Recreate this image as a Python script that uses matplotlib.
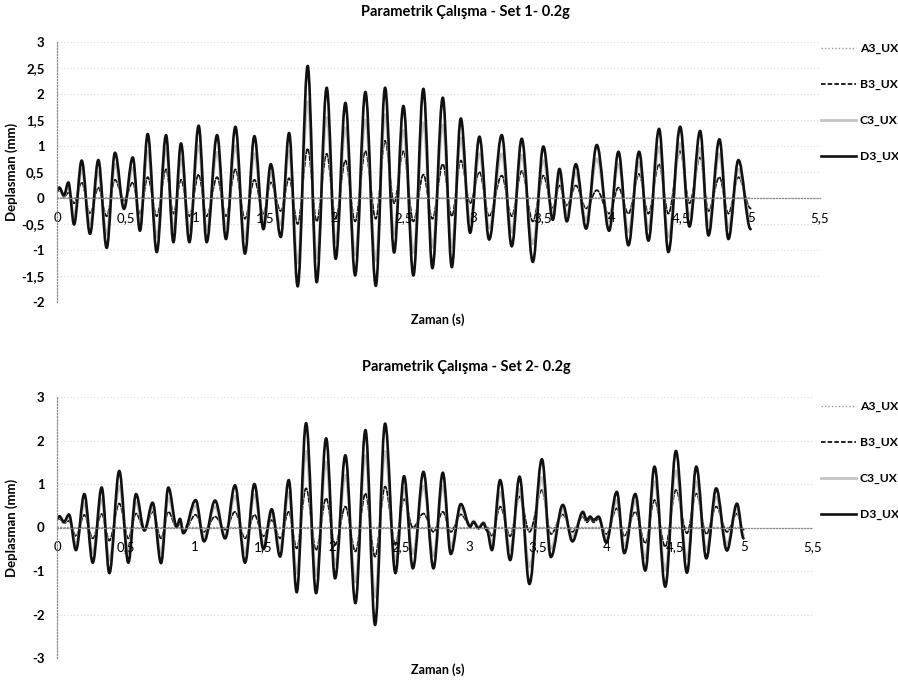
import matplotlib
matplotlib.use('Agg')
import matplotlib.pyplot as plt
from matplotlib.path import Path
from matplotlib.patches import PathPatch
from matplotlib.lines import Line2D

plt.rcParams['font.family'] = ['Lato', 'DejaVu Sans']

# ---- Set 1: time of each turning point (s) and displacement (mm)
t1 = [0.000, 0.017, 0.050, 0.082, 0.123, 0.178, 0.238, 0.298, 0.358, 0.418,
      0.483, 0.546, 0.598, 0.654, 0.719, 0.786, 0.839, 0.894, 0.954, 1.021,
      1.079, 1.154, 1.218, 1.286, 1.355, 1.423, 1.488, 1.541, 1.613, 1.673,
      1.735, 1.807, 1.872, 1.944, 2.009, 2.079, 2.149, 2.223, 2.298, 2.365,
      2.430, 2.497, 2.569, 2.641, 2.706, 2.781, 2.846, 2.911, 2.978, 3.045,
      3.115, 3.206, 3.278, 3.350, 3.430, 3.506, 3.574, 3.622, 3.675, 3.740,
      3.814, 3.891, 3.980, 4.047, 4.119, 4.196, 4.263, 4.340, 4.407, 4.492,
      4.559, 4.636, 4.696, 4.775, 4.840, 4.912, 5.000]
d3_set1 = [0.15, 0.20, 0.05, 0.30, -0.51, 0.72, -0.69, 0.73, -0.96, 0.87,
           -0.21, 0.78, -0.63, 1.23, -1.04, 1.21, -0.85, 1.05, -0.85, 1.39,
           -0.85, 1.21, -0.79, 1.37, -1.07, 1.19, -0.60, 0.65, -0.75, 1.25,
           -1.70, 2.54, -1.62, 2.12, -1.17, 1.83, -1.49, 2.04, -1.69, 2.12,
           -1.05, 1.77, -1.49, 2.10, -1.35, 1.93, -1.33, 1.53, -0.67, 1.18,
           -0.80, 1.21, -0.93, 1.14, -1.23, 0.99, -0.42, 0.56, -0.45, 0.65,
           -0.59, 1.02, -0.63, 0.89, -0.91, 0.89, -0.82, 1.33, -1.04, 1.37,
           -0.55, 1.29, -0.72, 1.13, -0.79, 0.73, -0.60]
b3_set1 = [0.12, 0.15, 0.02, 0.10, -0.10, 0.30, -0.30, 0.20, -0.35, 0.35,
           -0.05, 0.30, -0.30, 0.40, -0.35, 0.55, -0.30, 0.35, -0.35, 0.45,
           -0.35, 0.40, -0.35, 0.55, -0.40, 0.35, -0.30, 0.30, -0.25, 0.38,
           -0.50, 0.95, -0.45, 0.85, -0.40, 0.72, -0.45, 0.90, -0.40, 1.10,
           -0.10, 0.90, -0.45, 0.45, -0.40, 0.65, -0.35, 0.72, -0.10, 0.50,
           -0.35, 0.43, -0.35, 0.52, -0.45, 0.43, -0.20, 0.24, -0.15, 0.24,
           -0.20, 0.15, -0.30, 0.20, -0.30, 0.46, -0.30, 0.65, -0.30, 0.90,
           -0.10, 0.78, -0.25, 0.40, -0.30, 0.40, -0.20]
c3_set1 = [0.14, 0.18, 0.04, 0.22, -0.35, 0.55, -0.50, 0.50, -0.70, 0.65,
           -0.15, 0.58, -0.48, 0.90, -0.75, 0.95, -0.62, 0.75, -0.62, 1.00,
           -0.62, 0.88, -0.58, 1.00, -0.78, 0.85, -0.45, 0.48, -0.52, 0.90,
           -1.25, 1.85, -1.15, 1.55, -0.85, 1.35, -1.10, 1.50, -1.20, 1.60,
           -0.70, 1.30, -1.05, 1.45, -0.95, 1.40, -0.95, 1.15, -0.45, 0.85,
           -0.58, 0.85, -0.65, 0.82, -0.88, 0.72, -0.30, 0.42, -0.32, 0.48,
           -0.42, 0.75, -0.45, 0.65, -0.65, 0.68, -0.60, 0.98, -0.75, 1.05,
           -0.35, 0.95, -0.52, 0.85, -0.58, 0.55, -0.40]

# ---- Set 2
t2 = [0.000, 0.017, 0.051, 0.087, 0.138, 0.199, 0.260, 0.325, 0.381, 0.453,
      0.519, 0.575, 0.636, 0.696, 0.757, 0.810, 0.871, 0.895, 0.919, 1.009,
      1.070, 1.150, 1.223, 1.295, 1.368, 1.436, 1.502, 1.562, 1.623, 1.686,
      1.744, 1.812, 1.885, 1.958, 2.023, 2.098, 2.171, 2.244, 2.314, 2.387,
      2.462, 2.525, 2.589, 2.666, 2.739, 2.807, 2.865, 2.938, 3.006, 3.030,
      3.066, 3.103, 3.127, 3.164, 3.224, 3.297, 3.365, 3.437, 3.528, 3.593,
      3.680, 3.750, 3.826, 3.855, 3.879, 3.903, 3.940, 3.996, 4.073, 4.127,
      4.207, 4.280, 4.347, 4.425, 4.503, 4.583, 4.651, 4.724, 4.796, 4.874,
      4.947, 4.995]
d3_set2 = [0.21, 0.26, 0.13, 0.30, -0.52, 0.77, -0.81, 0.92, -1.05, 1.30,
           -0.81, 0.77, -0.07, 0.57, -0.82, 0.92, 0.02, 0.20, -0.13, 0.63,
           -0.32, 0.62, -0.25, 0.97, -0.81, 1.00, -0.50, 0.42, -0.67, 1.09,
           -1.49, 2.40, -1.51, 2.05, -1.17, 1.66, -1.74, 2.24, -2.24, 2.39,
           -1.05, 1.18, -0.94, 1.28, -0.94, 1.26, -0.61, 0.54, 0.02, 0.13,
           -0.02, 0.10, -0.06, -0.52, 1.09, -0.75, 1.17, -1.30, 1.57, -0.68,
           0.52, -0.32, 0.36, 0.17, 0.25, 0.17, 0.25, -0.35, 0.82, -0.59,
           0.77, -0.99, 1.40, -1.36, 1.76, -1.04, 1.40, -0.71, 0.90, -0.53,
           0.55, -0.25]
b3_set2 = [0.18, 0.20, 0.10, 0.15, -0.20, 0.29, -0.25, 0.31, -0.30, 0.55,
           -0.25, 0.32, -0.05, 0.36, -0.25, 0.36, 0.00, 0.10, -0.10, 0.29,
           -0.10, 0.25, -0.05, 0.36, -0.25, 0.29, -0.20, 0.17, -0.25, 0.36,
           -0.48, 0.90, -0.52, 0.67, -0.40, 0.48, -0.55, 0.78, -0.67, 0.94,
           -0.40, 0.65, 0.00, 0.32, -0.10, 0.36, -0.10, 0.30, 0.05, 0.12,
           0.02, 0.10, 0.00, -0.20, 0.48, -0.20, 0.71, -0.10, 0.86, -0.15,
           0.30, -0.10, 0.25, 0.12, 0.20, 0.12, 0.20, -0.15, 0.44, -0.20,
           0.36, -0.36, 0.63, -0.44, 0.86, -0.13, 0.78, -0.15, 0.48, -0.10,
           0.32, -0.05]
c3_set2 = [0.20, 0.24, 0.12, 0.24, -0.38, 0.55, -0.58, 0.65, -0.75, 0.95,
           -0.58, 0.58, -0.06, 0.45, -0.58, 0.68, 0.02, 0.16, -0.12, 0.50,
           -0.22, 0.48, -0.18, 0.72, -0.58, 0.75, -0.38, 0.32, -0.48, 0.80,
           -1.05, 1.75, -1.10, 1.50, -0.85, 1.20, -1.25, 1.65, -1.60, 1.75,
           -0.78, 0.90, -0.60, 0.95, -0.65, 0.95, -0.42, 0.45, 0.05, 0.15,
           0.00, 0.12, -0.04, -0.38, 0.80, -0.52, 0.88, -0.90, 1.15, -0.48,
           0.42, -0.22, 0.32, 0.17, 0.24, 0.17, 0.24, -0.26, 0.62, -0.42,
           0.60, -0.70, 1.05, -0.98, 1.30, -0.72, 1.05, -0.50, 0.70, -0.38,
           0.45, -0.18]

# base node stays at rest
a3_t = [0.0, 5.0]
a3_v = [0.0, 0.0]

x_ticks = [0, 0.5, 1, 1.5, 2, 2.5, 3, 3.5, 4, 4.5, 5, 5.5]
x_labels = ['0', '0,5', '1', '1,5', '2', '2,5', '3', '3,5', '4', '4,5', '5', '5,5']
y1_ticks = [-2, -1.5, -1, -0.5, 0, 0.5, 1, 1.5, 2, 2.5, 3]
y1_labels = ['-2', '-1,5', '-1', '-0,5', '0', '0,5', '1', '1,5', '2', '2,5', '3']
y2_ticks = [-3, -2, -1, 0, 1, 2, 3]
y2_labels = ['-3', '-2', '-1', '0', '1', '2', '3']
series = ['A3_UX', 'B3_UX', 'C3_UX', 'D3_UX']

styles = {
    'A3_UX': dict(color='#9a9a9a', lw=1.0, ls=(0, (1, 1.5))),
    'B3_UX': dict(color='#111111', lw=1.3, ls=(0, (2.5, 1.2))),
    'C3_UX': dict(color='#c4c4c4', lw=2.0, ls='-'),
    'D3_UX': dict(color='#111111', lw=1.9, ls='-'),
}


def smooth(t, v, k=0.36):
    # excel style smoothed line: bezier segments, flat at each read point
    verts = [(t[0], v[0])]
    codes = [Path.MOVETO]
    for i in range(len(t) - 1):
        dt = t[i + 1] - t[i]
        verts += [(t[i] + k * dt, v[i]), (t[i + 1] - k * dt, v[i + 1]), (t[i + 1], v[i + 1])]
        codes += [Path.CURVE4] * 3
    return Path(verts, codes)


def draw_series(ax, name, t, v):
    st = styles[name]
    ax.add_patch(PathPatch(smooth(t, v), fill=False, edgecolor=st['color'],
                           linewidth=st['lw'], linestyle=st['ls'],
                           capstyle='round', joinstyle='round'))


def style_axes(ax, yticks, ylabels, ylim):
    ax.set_xlim(0, 5.5)
    ax.set_ylim(*ylim)
    ax.set_xticks(x_ticks)
    ax.set_xticklabels(x_labels)
    ax.set_yticks(yticks)
    ax.set_yticklabels(ylabels)
    ax.tick_params(axis='both', length=0, labelsize=9.5, colors='black')
    ax.tick_params(axis='y', pad=9)
    ax.tick_params(axis='x', pad=10)
    for lbl in ax.get_xticklabels() + ax.get_yticklabels():
        lbl.set_fontweight('bold')
    ax.spines[['top', 'right']].set_visible(False)
    ax.spines['bottom'].set_position(('data', 0))
    ax.spines['bottom'].set_linestyle((0, (1, 1.5)))
    ax.spines['bottom'].set_color('#8a8a8a')
    ax.spines['bottom'].set_linewidth(0.9)
    ax.spines['left'].set_linestyle((0, (1, 1.5)))
    ax.spines['left'].set_color('#8a8a8a')
    ax.spines['left'].set_linewidth(0.9)
    for y in yticks:
        if y != 0:
            ax.axhline(y, color='#dcdcdc', lw=0.8, ls=(0, (1, 2)), zorder=0.4)


def legend(ax, y_top):
    handles = [Line2D([], [], color=styles[n]['color'], lw=styles[n]['lw'],
                      ls=styles[n]['ls']) for n in series]
    ax.legend(handles, series, loc='upper left',
              bbox_to_anchor=(821 / 898, 1 - y_top / 681),
              bbox_transform=fig.transFigure, frameon=False,
              handlelength=2.9, handletextpad=0.3,
              labelspacing=2.05, borderpad=0, borderaxespad=0,
              prop={'weight': 'bold', 'size': 8.7})


fig = plt.figure(figsize=(8.98, 6.81), dpi=100)
fig.patch.set_facecolor('white')

ax1 = fig.add_axes([57 / 898, 1 - 302 / 681, 763 / 898, 260 / 681])
ax2 = fig.add_axes([57 / 898, 1 - 658 / 681, 756 / 898, 261 / 681])

for ax, t, b3, c3, d3 in [(ax1, t1, b3_set1, c3_set1, d3_set1),
                          (ax2, t2, b3_set2, c3_set2, d3_set2)]:
    draw_series(ax, 'A3_UX', a3_t, a3_v)
    draw_series(ax, 'B3_UX', t, b3)
    draw_series(ax, 'C3_UX', t, c3)
    draw_series(ax, 'D3_UX', t, d3)

style_axes(ax1, y1_ticks, y1_labels, (-2, 3))
style_axes(ax2, y2_ticks, y2_labels, (-3, 3))
legend(ax1, 43)
legend(ax2, 401)

fig.text(465 / 898, 1 - 12 / 681, 'Parametrik Çalışma - Set 1- 0.2g',
         ha='center', va='center', fontsize=10.5, fontweight='bold')
fig.text(466 / 898, 1 - 367 / 681, 'Parametrik Çalışma - Set 2- 0.2g',
         ha='center', va='center', fontsize=10.5, fontweight='bold')
for y in (320, 670):
    fig.text(438 / 898, 1 - y / 681, 'Zaman (s)', ha='center', va='center',
             fontsize=9, fontweight='bold')
for y in (172, 528):
    fig.text(12 / 898, 1 - y / 681, 'Deplasman (mm)', ha='center', va='center',
             rotation=90, fontsize=9.5, fontweight='bold')

fig.savefig('out.png', dpi=100, facecolor='white')
